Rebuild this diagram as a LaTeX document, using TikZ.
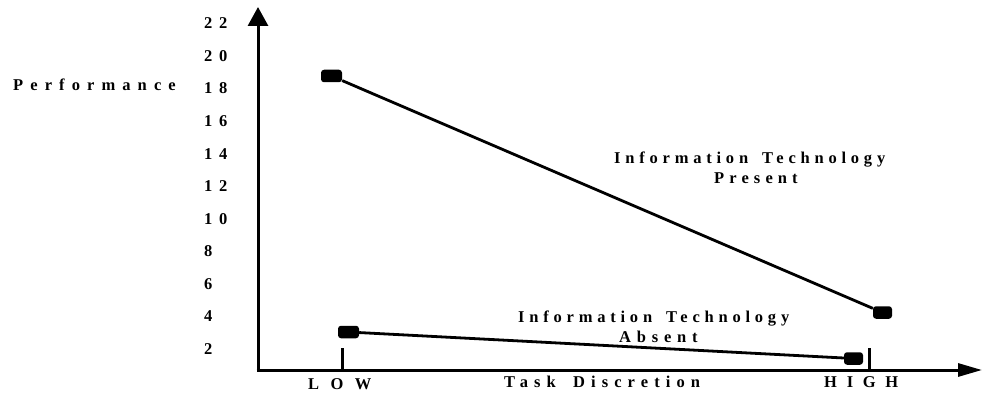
\documentclass[tikz,border=0pt]{standalone}
\usepackage{fontspec}
\setmainfont{Liberation Serif}
\usetikzlibrary{arrows.meta}
\newcommand{\spc}[2]{{\addfontfeature{LetterSpace=#1}#2}}
\begin{document}
\begin{tikzpicture}[x=1pt,y=-1pt,
  lbl/.style={inner sep=0pt, anchor=base west, font=\fontsize{16.5}{18}\selectfont\bfseries},
  axisline/.style={line width=3pt},
  dataline/.style={line width=2.8pt},
  marker/.style={fill=black, rounded corners=3pt, minimum width=20pt, minimum height=12.5pt, inner sep=0pt}]
\useasboundingbox (0,0) rectangle (982,393);
% axes
\coordinate (O) at (258,370);
\coordinate (ytip) at (258,7);
\coordinate (xtip) at (982,370);
\draw[axisline, -{Triangle[length=19pt,width=20pt]}] (O) -- (ytip);
\draw[axisline, -{Triangle[length=24pt,width=13pt]}] ([xshift=-1.5pt]O) -- (xtip);
% ticks
\coordinate (lowtop) at (342,348);
\coordinate (lowbot) at (342,370);
\coordinate (hightop) at (869.5,348);
\coordinate (highbot) at (869.5,370);
\draw[axisline] (lowtop) -- (lowbot);
\draw[axisline] (hightop) -- (highbot);
% y tick labels
\foreach \v [count=\k from 0] in {22,20,18,16,14,12,10,8,6,4,2}
  \node[lbl] (t\v) at (204,29+32.5*\k) {\spc{40}{\v}};
% axis labels
\node[lbl] (perf) at (13,91) {\spc{43}{Performance}};
\node[lbl] (task) at (504,387) {\spc{37}{Task \hspace{7pt}Discretion}};
\node[lbl] (low) at (308,389) {\spc{69}{LOW}};
\node[lbl] (high) at (824,387) {\spc{59}{HIGH}};
% series labels
\node[lbl] (itp1) at (614,163) {\spc{29}{Information \hspace{5pt}Technology}};
\node[lbl] (itp2) at (714,183) {\spc{31}{Present}};
\node[lbl] (ita1) at (518,322) {\spc{29}{Information \hspace{5pt}Technology}};
\node[lbl] (ita2) at (619,342) {\spc{35}{Absent}};
% markers
\node[marker, minimum width=21pt] (m1) at (331.5,76) {};
\node[marker, minimum width=19pt] (m2) at (882.5,312.5) {};
\node[marker, minimum width=21pt] (m3) at (348.5,332) {};
\node[marker, minimum width=19pt] (m4) at (853.5,358.5) {};
\draw[dataline] (m1) -- (m2);
\draw[dataline] (m3) -- (m4);
\end{tikzpicture}
\end{document}
